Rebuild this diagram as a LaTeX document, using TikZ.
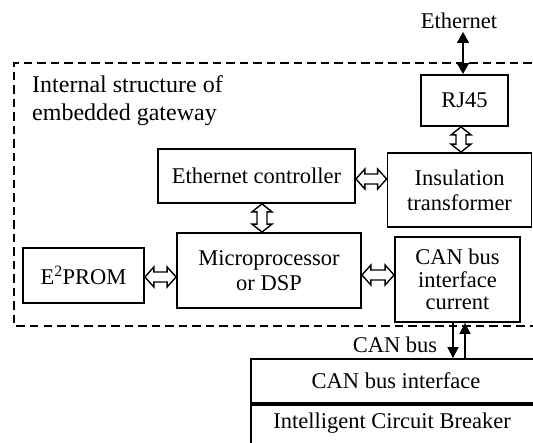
\documentclass[tikz,border=0pt]{standalone}
\usepackage{fontspec}
\setmainfont{Liberation Serif}
\usetikzlibrary{arrows.meta,calc}
\tikzset{
  blk/.style={draw, line width=1.8pt, rectangle, align=center, inner sep=0pt,
    font=\fontsize{22.5}{25}\selectfont},
  lbl/.style={inner sep=0pt, font=\fontsize{22.5}{25}\selectfont},
  harr/.style={draw, line width=1.4pt, line join=miter, to path={
    let \p1=(\tikztostart), \p2=(\tikztotarget) in
    (\x1,\y1) -- (\x1+9pt,\y1-10pt) -- (\x1+9pt,\y1-5pt) -- (\x2-9pt,\y1-5pt) -- (\x2-9pt,\y1-10pt)
    -- (\x2,\y1) -- (\x2-9pt,\y1+10pt) -- (\x2-9pt,\y1+5pt) -- (\x1+9pt,\y1+5pt) -- (\x1+9pt,\y1+10pt) -- cycle}},
  varr/.style={draw, line width=1.4pt, line join=miter, to path={
    let \p1=(\tikztostart), \p2=(\tikztotarget) in
    (\x1,\y1) -- (\x1-10pt,\y1-8pt) -- (\x1-5pt,\y1-8pt) -- (\x1-5pt,\y2+8pt) -- (\x1-10pt,\y2+8pt)
    -- (\x1,\y2) -- (\x1+10pt,\y2+8pt) -- (\x1+5pt,\y2+8pt) -- (\x1+5pt,\y1-8pt) -- (\x1+10pt,\y1-8pt) -- cycle}},
  solid arrow/.style={line width=1.6pt, -{Triangle[length=11pt,width=11pt]}},
  gate/.style={line width=1.6pt, dash pattern=on 8.5pt off 5pt}
}
\begin{document}
\begin{tikzpicture}[x=1pt,y=-1pt]
\useasboundingbox (0,0) rectangle (533,443);
% dashed gateway frame
\draw[gate] (545,63) -- (14,63) -- (14,326) -- (545,326);
\node[anchor=north west, align=left, inner sep=0pt, font=\fontsize{24}{28}\selectfont] (title) at (32,75)
  {Internal structure of\\embedded gateway};
% blocks
\node[blk, minimum width=87pt, minimum height=51pt] (rj) at (464.5,100.5) {RJ45};
\node[blk, minimum width=144pt, minimum height=74pt] (ins) at (459.5,190) {Insulation\\transformer};
\node[blk, minimum width=197pt, minimum height=54pt] (ec) at (256.5,176) {Ethernet controller};
\node[blk, minimum width=184pt, minimum height=75pt] (mp) at (269,270.5) {Microprocessor\\or DSP};
\node[blk, minimum width=121pt, minimum height=55pt] (ep) at (83.5,275.5) {E\textsuperscript{2}PROM};
\node[blk, minimum width=125pt, minimum height=85pt, font=\fontsize{22.5}{22.5}\selectfont] (can) at (457.5,279.5) {CAN bus\\interface\\current};
\node[blk, minimum width=290pt, minimum height=44pt] (cb1) at (396,381) {CAN bus interface};
\node[blk, minimum width=290pt, minimum height=50pt, anchor=north] (cb2) at (cb1.south) {};
\node[lbl] (cb2t) at (392,423) {Intelligent Circuit Breaker};
% labels
\node[lbl] (eth) at (459,21) {Ethernet};
\node[lbl] (canl) at (395,345) {CAN bus};
% hollow double arrows
\path[varr] (rj.south -| 461,0) to (ins.north -| 461,0);
\path[harr] (ec.east |- 0,179) to (ins.west |- 0,179);
\path[varr] (ec.south -| 262,0) to (mp.north -| 262,0);
\path[harr] (ep.east |- 0,277) to (mp.west |- 0,277);
\path[harr] (mp.east |- 0,275) to (can.west |- 0,275);
% solid arrows
\draw[line width=1.6pt, {Triangle[length=11pt,width=12pt]}-{Triangle[length=11pt,width=12pt]}] (463,32) -- (rj.north -| 463,0);
\draw[solid arrow] (can.south -| 453,0) -- (cb1.north -| 453,0);
\draw[solid arrow] (cb1.north -| 465,0) -- (can.south -| 465,0);
\end{tikzpicture}
\end{document}
